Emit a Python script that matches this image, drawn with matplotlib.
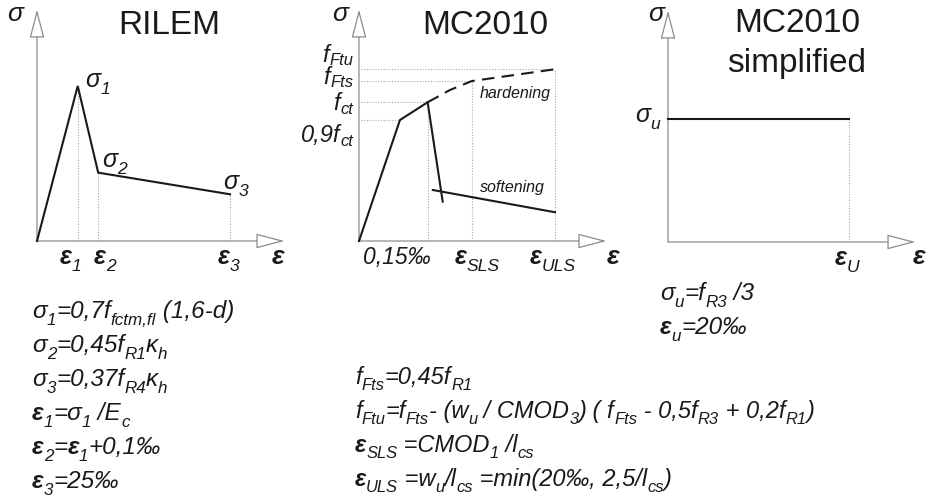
import matplotlib
matplotlib.use('Agg')
import matplotlib.pyplot as plt

plt.rcParams['font.family'] = ['Liberation Sans', 'DejaVu Sans']

INK = '#1a1a1a'
AXC = '#8c8c8c'
GUIDE = '#a8a8a8'

# schematic laws, each panel axis runs 0..10 in both directions
# RILEM: origin, sigma1, sigma2, sigma3
rilem_eps = [0.0, 1.81, 2.72, 8.58]
rilem_sig = [0.0, 7.60, 3.35, 2.29]

# MC2010: linear rise up to f_ct, hardening (dashed), softening branch
mc_rise_eps = [0.0, 1.82, 3.05]
mc_rise_sig = [0.0, 5.93, 6.80]
mc_hard_eps = [3.05, 4.04, 5.01, 8.71]
mc_hard_sig = [6.80, 7.40, 7.84, 8.42]
mc_drop_eps = [3.05, 3.72]
mc_drop_sig = [6.80, 1.93]
mc_soft_eps = [3.28, 8.71]
mc_soft_sig = [2.50, 1.41]
# levels marked on the MC2010 stress axis: f_Ftu, f_Fts, f_ct, 0.9f_ct
mc_lvl_eps = [8.71, 5.01, 3.05, 1.82]
mc_lvl_sig = [8.42, 7.84, 6.80, 5.93]

# MC2010 simplified: constant sigma_u up to eps_u
simp_eps = [0.0, 8.04]
simp_sig = [6.01, 6.01]

W, H = 928, 501
fig = plt.figure(figsize=(W / 100, H / 100), dpi=100)


def panel(ox, oy):
    ax = fig.add_axes([ox / W, (H - oy) / H, 225 / W, 204 / H])
    ax.set_xlim(0, 10)
    ax.set_ylim(0, 10)
    ax.axis('off')
    arrow = dict(arrowstyle='-|>,head_length=1.8,head_width=0.47', fc='white',
                 ec=AXC, lw=0.9, shrinkA=0, shrinkB=0)
    ax.annotate('', xy=(11.0, 0), xytext=(0, 0), arrowprops=arrow, annotation_clip=False)
    ax.annotate('', xy=(0, 11.35), xytext=(0, 0), arrowprops=arrow, annotation_clip=False)
    return ax


def vguide(ax, x, y):
    ax.plot([x, x], [0, y], ls=(0, (1, 1.5)), lw=0.8, color=GUIDE, zorder=1)


def hguide(ax, x, y):
    ax.plot([0.1, x], [y, y], ls=(0, (1, 1.5)), lw=0.8, color=GUIDE, zorder=1)


line_kw = dict(color=INK, lw=1.5, solid_joinstyle='miter', zorder=3, clip_on=False)

# RILEM
ax1 = panel(37, 241)
ax1.plot(rilem_eps, rilem_sig, **line_kw)
for e, s in zip(rilem_eps[1:], rilem_sig[1:]):
    vguide(ax1, e, s)

# MC2010
ax2 = panel(359, 241)
ax2.plot(mc_rise_eps, mc_rise_sig, **line_kw)
ax2.plot(mc_hard_eps, mc_hard_sig, color=INK, lw=1.5, ls=(0, (6, 3.5)), zorder=3)
ax2.plot(mc_drop_eps, mc_drop_sig, **line_kw)
ax2.plot(mc_soft_eps, mc_soft_sig, **line_kw)
for e, s in zip(mc_lvl_eps, mc_lvl_sig):
    hguide(ax2, e, s)
for e, s in zip(mc_lvl_eps[:3], mc_lvl_sig[:3]):
    vguide(ax2, e, s)

# MC2010 simplified
ax3 = panel(668, 242)
ax3.plot(simp_eps, simp_sig, **line_kw)
vguide(ax3, simp_eps[-1], simp_sig[-1])

# overlay for all text, in pixel coordinates
ov = fig.add_axes([0, 0, 1, 1])
ov.set_xlim(0, W)
ov.set_ylim(H, 0)
ov.axis('off')
ov.patch.set_alpha(0)
renderer = fig.canvas.get_renderer()


def rich(x, y, parts, size=17.5, ha='left', drop=0.27):
    objs = []
    cx = 0
    for txt, kind in parts:
        sub = 's' in kind
        fs = size * 0.7 if sub else size
        dy = size * 100 / 72 * drop if sub else 0
        wt = 'bold' if 'b' in kind else 'normal'
        t = ov.text(0, y + dy, txt, fontsize=fs, style='italic', weight=wt,
                    color=INK, va='baseline', ha='left')
        w = t.get_window_extent(renderer).width
        objs.append((t, cx))
        cx += w
    start = x - cx if ha == 'right' else x
    for t, off in objs:
        t.set_x(start + off)


# titles
ov.text(169, 25, 'RILEM', fontsize=24, ha='center', va='center', color=INK)
ov.text(485, 25, 'MC2010', fontsize=24, ha='center', va='center', color=INK)
ov.text(797, 23, 'MC2010', fontsize=24, ha='center', va='center', color=INK)
ov.text(797, 63, 'simplified', fontsize=24, ha='center', va='center', color=INK)

# axis names
for x in (7, 332, 648):
    rich(x, 21, [('σ', '')], size=19)
for x in (272, 607, 913):
    rich(x, 264, [('ε', 'b')], size=19)

# RILEM point labels
rich(85, 87, [('σ', ''), ('1', 's')], size=18)
rich(102, 167, [('σ', ''), ('2', 's')], size=18)
rich(223, 189, [('σ', ''), ('3', 's')], size=18)
rich(60, 264, [('ε', 'b'), ('1', 's')], size=18)
rich(94, 264, [('ε', 'b'), ('2', 's')], size=18)
rich(218, 264, [('ε', 'b'), ('3', 's')], size=18)

# MC2010 labels
rich(353, 62, [('f', ''), ('Ftu', 's')], size=17, ha='right', drop=0.12)
rich(353, 84, [('f', ''), ('Fts', 's')], size=17, ha='right', drop=0.12)
rich(353, 110, [('f', ''), ('ct', 's')], size=17, ha='right', drop=0.15)
rich(353, 142, [('0,9f', ''), ('ct', 's')], size=17, ha='right', drop=0.15)
ov.text(480, 98, 'hardening', fontsize=11.5, style='italic', color=INK, va='baseline')
ov.text(480, 192, 'softening', fontsize=11.5, style='italic', color=INK, va='baseline')
rich(363, 264, [('0,15‰', '')], size=16.5)
rich(455, 264, [('ε', 'b'), ('SLS', 's')], size=18)
rich(530, 264, [('ε', 'b'), ('ULS', 's')], size=18)

# simplified labels
rich(635, 122, [('σ', ''), ('u', 's')], size=18)
rich(835, 265, [('ε', 'b'), ('U', 's')], size=18)

# formulas
left_rows = [
    [('σ', ''), ('1', 's'), ('=0,7f', ''), ('fctm,fl', 's'), (' (1,6-d)', '')],
    [('σ', ''), ('2', 's'), ('=0,45f', ''), ('R1', 's'), ('κ', ''), ('h', 's')],
    [('σ', ''), ('3', 's'), ('=0,37f', ''), ('R4', 's'), ('κ', ''), ('h', 's')],
    [('ε', 'b'), ('1', 's'), ('=σ', ''), ('1', 's'), (' /E', ''), ('c', 's')],
    [('ε', 'b'), ('2', 's'), ('=', ''), ('ε', 'b'), ('1', 's'), ('+0,1‰', '')],
    [('ε', 'b'), ('3', 's'), ('=25‰', '')],
]
for i, row in enumerate(left_rows):
    rich(32, 318 + 34 * i, row)

mid_rows = [
    [('f', ''), ('Fts', 's'), ('=0,45f', ''), ('R1', 's')],
    [('f', ''), ('Ftu', 's'), ('=f', ''), ('Fts', 's'), ('- (w', ''), ('u', 's'),
     (' / CMOD', ''), ('3', 's'), (') ( f', ''), ('Fts', 's'), (' - 0,5f', ''),
     ('R3', 's'), (' + 0,2f', ''), ('R1', 's'), (')', '')],
    [('ε', 'b'), ('SLS', 's'), (' =CMOD', ''), ('1', 's'), (' /l', ''), ('cs', 's')],
    [('ε', 'b'), ('ULS', 's'), (' =w', ''), ('u', 's'), ('/l', ''), ('cs', 's'),
     (' =min(20‰, 2,5/l', ''), ('cs', 's'), (')', '')],
]
for i, row in enumerate(mid_rows):
    rich(355, 384 + 34 * i, row, size=17)

right_rows = [
    [('σ', ''), ('u', 's'), ('=f', ''), ('R3', 's'), (' /3', '')],
    [('ε', 'b'), ('u', 's'), ('=20‰', '')],
]
for i, row in enumerate(right_rows):
    rich(660, 300 + 34 * i, row)

fig.savefig('out.png', dpi=100)
